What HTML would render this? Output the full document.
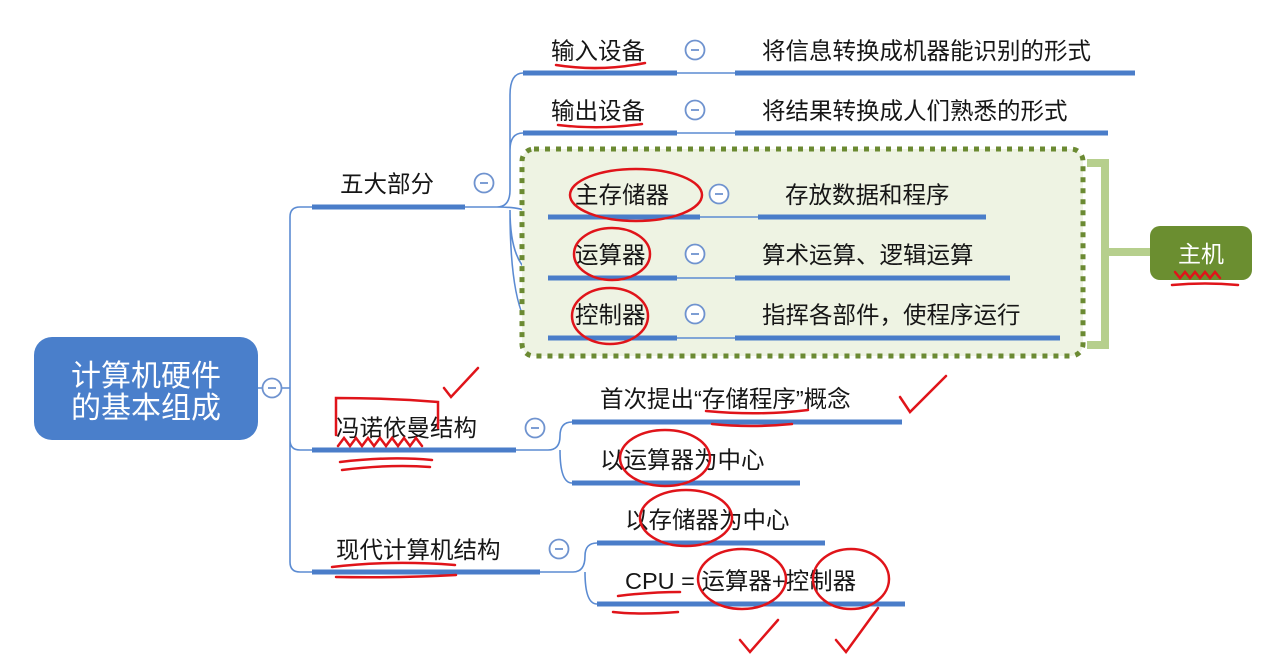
<!DOCTYPE html>
<html><head><meta charset="utf-8"><style>
html,body{margin:0;padding:0;background:#fff;width:1284px;height:665px;overflow:hidden}
svg{display:block}
text{font-family:"Liberation Sans","Noto Sans CJK SC",sans-serif;font-size:23.5px;fill:#161616}
.b{stroke:#4a7dc9;stroke-width:5;fill:none}
.t{stroke:#5b8bd2;stroke-width:1.6;fill:none}
.r{stroke:#e0141a;stroke-width:2.5;fill:none;stroke-linecap:round}
</style></head><body>
<svg width="1284" height="665" viewBox="0 0 1284 665">
<defs>
<g id="c"><circle r="9.5" fill="#fff" stroke="#6f93cf" stroke-width="1.8"/><line x1="-4" y1="0" x2="4" y2="0" stroke="#6f93cf" stroke-width="1.8"/></g>
</defs>
<!-- root -->
<rect x="34" y="337" width="224" height="103" rx="18" fill="#4a7fcb"/>
<text x="146" y="386" text-anchor="middle" style="font-size:30px;fill:#fff">计算机硬件</text>
<text x="146" y="418" text-anchor="middle" style="font-size:30px;fill:#fff">的基本组成</text>
<line x1="258" y1="388" x2="290" y2="388" class="t"/>
<use href="#c" x="272" y="388"/>
<!-- trunk -->
<path class="t" d="M312 207 H300 Q290 207 290 217 V562 Q290 572 300 572 H312 M290 440 Q290 450 300 450 H312"/>
<!-- level 1 -->
<line x1="312" y1="207" x2="465" y2="207" class="b"/>
<text x="340" y="192">五大部分</text>
<line x1="465" y1="207" x2="497" y2="207" class="t"/>
<use href="#c" x="484" y="183"/>
<line x1="312" y1="450" x2="516" y2="450" class="b"/>
<text x="336" y="436">冯诺依曼结构</text>
<use href="#c" x="535" y="428"/>
<line x1="516" y1="450" x2="548" y2="450" class="t"/>
<line x1="312" y1="572" x2="540" y2="572" class="b"/>
<text x="336" y="558">现代计算机结构</text>
<use href="#c" x="559" y="549"/>
<line x1="540" y1="572" x2="573" y2="572" class="t"/>
<!-- branches of 五大部分 -->
<path class="t" d="M497 207 Q510 207 510 190 V95 Q510 73 523 73 M510 150 Q510 133 523 133 M497 207 Q520 207 528 212 Q536 217 548 217 M510 210 Q510 278 548 278 M510 210 Q510 338 548 338"/>
<!-- green box -->
<rect x="522" y="149" width="561" height="207" rx="12" fill="#eef3e3" stroke="#6b8a32" stroke-width="5" stroke-dasharray="5 6"/>
<path d="M1087 163 H1105 V345 H1087 M1105 252 H1150" stroke="#b6cf8d" stroke-width="8" fill="none"/>
<rect x="1150" y="226" width="102" height="54" rx="10" fill="#6b8e30"/>
<text x="1201" y="262" text-anchor="middle" style="fill:#fff;font-size:23px">主机</text>
<!-- rows -->
<line x1="523" y1="73" x2="677" y2="73" class="b"/><line x1="677" y1="73" x2="735" y2="73" class="t"/><line x1="735" y1="73" x2="1135" y2="73" class="b"/>
<text x="551" y="59">输入设备</text><use href="#c" x="695" y="50"/><text x="762" y="59">将信息转换成机器能识别的形式</text>
<line x1="523" y1="133" x2="677" y2="133" class="b"/><line x1="677" y1="133" x2="735" y2="133" class="t"/><line x1="735" y1="133" x2="1108" y2="133" class="b"/>
<text x="551" y="119">输出设备</text><use href="#c" x="695" y="110"/><text x="762" y="119">将结果转换成人们熟悉的形式</text>
<line x1="548" y1="217" x2="700" y2="217" class="b"/><line x1="700" y1="217" x2="758" y2="217" class="t"/><line x1="758" y1="217" x2="986" y2="217" class="b"/>
<text x="575" y="203">主存储器</text><use href="#c" x="719" y="194"/><text x="785" y="203">存放数据和程序</text>
<line x1="548" y1="278" x2="677" y2="278" class="b"/><line x1="677" y1="278" x2="735" y2="278" class="t"/><line x1="735" y1="278" x2="1010" y2="278" class="b"/>
<text x="575" y="263">运算器</text><use href="#c" x="695" y="254"/><text x="762" y="263">算术运算、逻辑运算</text>
<line x1="548" y1="338" x2="677" y2="338" class="b"/><line x1="677" y1="338" x2="735" y2="338" class="t"/><line x1="735" y1="338" x2="1060" y2="338" class="b"/>
<text x="575" y="323">控制器</text><use href="#c" x="695" y="314"/><text x="762" y="323">指挥各部件，使程序运行</text>
<!-- von neumann -->
<path class="t" d="M548 450 Q560 450 560 436 Q560 422 572 422 M560 450 Q560 483 572 483"/>
<line x1="572" y1="422" x2="902" y2="422" class="b"/><text x="600" y="407">首次提出“存储程序”概念</text>
<line x1="572" y1="483" x2="800" y2="483" class="b"/><text x="600" y="468">以运算器为中心</text>
<!-- modern -->
<path class="t" d="M573 572 Q585 572 585 556 Q585 543 597 543 M585 572 Q585 604 597 604"/>
<line x1="597" y1="543" x2="825" y2="543" class="b"/><text x="625" y="528">以存储器为中心</text>
<line x1="597" y1="604" x2="905" y2="604" class="b"/><text x="625" y="589">CPU = 运算器+控制器</text>
<!-- red annotations -->
<path class="r" d="M556 65 Q600 72 645 63 M558 125 Q600 130 642 124"/>
<ellipse cx="636" cy="195" rx="66" ry="26" class="r"/>
<ellipse cx="612" cy="254" rx="38" ry="26" class="r"/>
<ellipse cx="610" cy="316" rx="38" ry="28" class="r"/>
<path class="r" d="M1175 272 l5 6 5-6 5 6 5-6 5 6 5-6 5 6 5-6 5 6 M1172 285 Q1205 282 1238 285"/>
<path class="r" d="M336 435 V398 Q390 398 438 402 V428 M338 446 l6 -8 6 8 6 -8 6 8 6 -8 6 8 6 -8 6 8 6 -8 6 8 6 -8 6 8 6-8 6 8 M340 462 Q390 456 432 460 M342 470 Q390 464 430 467"/>
<path class="r" d="M444 388 L451 397 L478 368"/>
<path class="r" d="M332 567 Q390 560 455 565 M336 577 Q400 578 456 575"/>
<path class="r" d="M706 411 Q760 416 808 410 M712 424 Q750 428 792 424"/>
<path class="r" d="M900 397 L910 412 L946 376"/>
<ellipse cx="665" cy="458" rx="45" ry="28" class="r"/>
<ellipse cx="686" cy="518" rx="46" ry="28" class="r"/>
<ellipse cx="742" cy="579" rx="44" ry="30" class="r"/>
<ellipse cx="851" cy="579" rx="38" ry="30" class="r"/>
<path class="r" d="M618 596 Q650 592 680 592 M613 612 Q640 615 678 612"/>
<path class="r" d="M740 640 L750 652 L778 620 M836 640 L846 652 L878 608"/>
</svg>
</body></html>
